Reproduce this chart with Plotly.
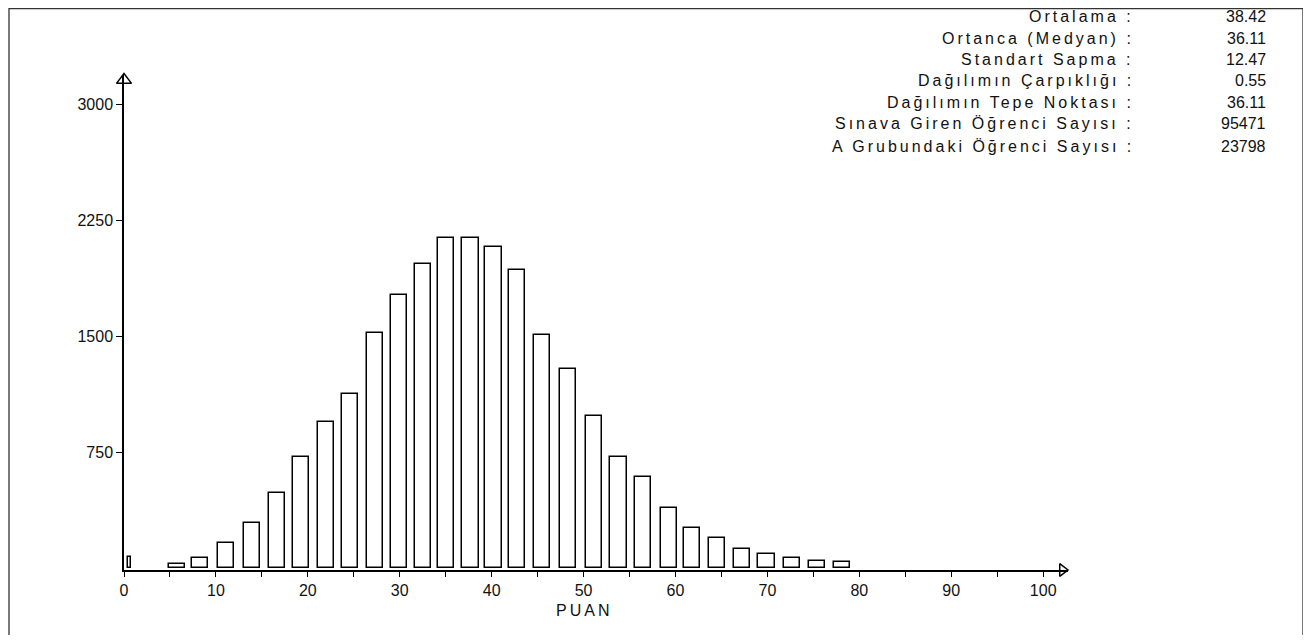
import plotly.graph_objects as go

# ---- data ----
puan = [0.6, 5.8, 8.3, 11.1, 13.9, 16.6, 19.3, 22.0, 24.6, 27.3, 29.9, 32.5, 35.0, 37.7,
        40.2, 42.8, 45.5, 48.3, 51.1, 53.8, 56.5, 59.3, 61.8, 64.5, 67.2, 69.9, 72.7, 75.4, 78.1]
ogrenci_sayisi = [70, 25, 65, 164, 294, 489, 716, 942, 1123, 1519, 1763, 1964, 2132, 2132,
                  2073, 1929, 1506, 1285, 983, 720, 588, 391, 259, 192, 121, 89, 63, 47, 37]
y_tick_values = [750, 1500, 2250, 3000]
x_tick_values = [0, 10, 20, 30, 40, 50, 60, 70, 80, 90, 100]
x_minor_ticks = [5, 15, 25, 35, 45, 55, 65, 75, 85, 95]
stat_labels = ["Ortalama :", "Ortanca (Medyan) :", "Standart Sapma :", "Dağılımın Çarpıklığı :",
               "Dağılımın Tepe Noktası :", "Sınava Giren Öğrenci Sayısı :",
               "A Grubundaki Öğrenci Sayısı :"]
stat_values = ["38.42", "36.11", "12.47", "0.55", "36.11", "95471", "23798"]
x_title = "PUAN"

# ---- layout geometry (page pixels; the page body has an 8px margin) ----
OFF = 8
W, H = 1295, 627
L, R, T, B = 116, 235, 67, 65
X_MAX = 102.7
Y_MIN, Y_MAX = -12, 3188
plot_w = W - L - R
plot_h = H - T - B


def px_x(p):
    return (p - OFF - L) / plot_w


def px_y(p):
    return (H - B - (p - OFF)) / plot_h


FONT = "Liberation Sans, Arial, sans-serif"

widths = [0.35] + [1.75] * (len(puan) - 1)

fig = go.Figure()
fig.add_trace(go.Bar(
    x=puan, y=ogrenci_sayisi, width=widths,
    marker=dict(color="white", line=dict(color="black", width=1.5)),
    showlegend=False, hoverinfo="x+y",
))

# axis arrowheads
fig.add_trace(go.Scatter(
    x=[0], y=[3155], mode="markers",
    marker=dict(symbol="triangle-up-open", size=13, color="black",
                line=dict(width=1.5, color="black")),
    cliponaxis=False, showlegend=False, hoverinfo="skip",
))
fig.add_trace(go.Scatter(
    x=[102.1], y=[Y_MIN], mode="markers",
    marker=dict(symbol="triangle-right-open", size=11, color="black",
                line=dict(width=1.5, color="black")),
    cliponaxis=False, showlegend=False, hoverinfo="skip",
))

annotations = []
row_y = [17, 38.5, 59.5, 81, 102, 124, 146]
for lab, val, yy in zip(stat_labels, stat_values, row_y):
    annotations.append(dict(
        xref="paper", yref="paper", x=px_x(1136), y=px_y(yy),
        xanchor="right", yanchor="middle", showarrow=False,
        text='<span style="letter-spacing:3px">' + lab + '</span>',
        font=dict(family=FONT, size=16, color="#111"),
    ))
    annotations.append(dict(
        xref="paper", yref="paper", x=px_x(1268), y=px_y(yy),
        xanchor="right", yanchor="middle", showarrow=False,
        text=val, font=dict(family=FONT, size=16, color="#111"),
    ))

annotations.append(dict(
    xref="x", yref="paper", x=50, y=px_y(610), xanchor="center", yanchor="middle",
    showarrow=False, text='<span style="letter-spacing:3px">' + x_title + '</span>',
    font=dict(family=FONT, size=16, color="#111"),
))

shapes = [dict(
    type="rect", xref="paper", yref="paper",
    x0=px_x(9), x1=px_x(1303), y0=px_y(640), y1=px_y(8.6),
    line=dict(color="#333", width=1.3), fillcolor="rgba(0,0,0,0)", layer="below",
)]

fig.update_layout(
    width=W, height=H,
    margin=dict(l=L, r=R, t=T, b=B, pad=0),
    paper_bgcolor="white", plot_bgcolor="white",
    bargap=0, showlegend=False,
    annotations=annotations, shapes=shapes,
    font=dict(family=FONT, size=16, color="#111"),
    xaxis=dict(
        range=[0, X_MAX], showgrid=False, zeroline=False,
        showline=True, linecolor="black", linewidth=1.5,
        tickmode="array", tickvals=x_tick_values, ticks="outside", ticklen=5,
        tickwidth=1.2, tickcolor="black",
        minor=dict(tickmode="array", tickvals=x_minor_ticks,
                   ticks="outside", ticklen=5, tickwidth=1.2, tickcolor="black"),
        tickfont=dict(family=FONT, size=16, color="#111"),
    ),
    yaxis=dict(
        range=[Y_MIN, Y_MAX], showgrid=False, zeroline=False,
        showline=True, linecolor="black", linewidth=1.5,
        tickmode="array", tickvals=y_tick_values, ticks="outside", ticklen=6,
        tickwidth=1.2, tickcolor="black",
        tickfont=dict(family=FONT, size=16, color="#111"),
    ),
)

fig.write_html("out.html")
